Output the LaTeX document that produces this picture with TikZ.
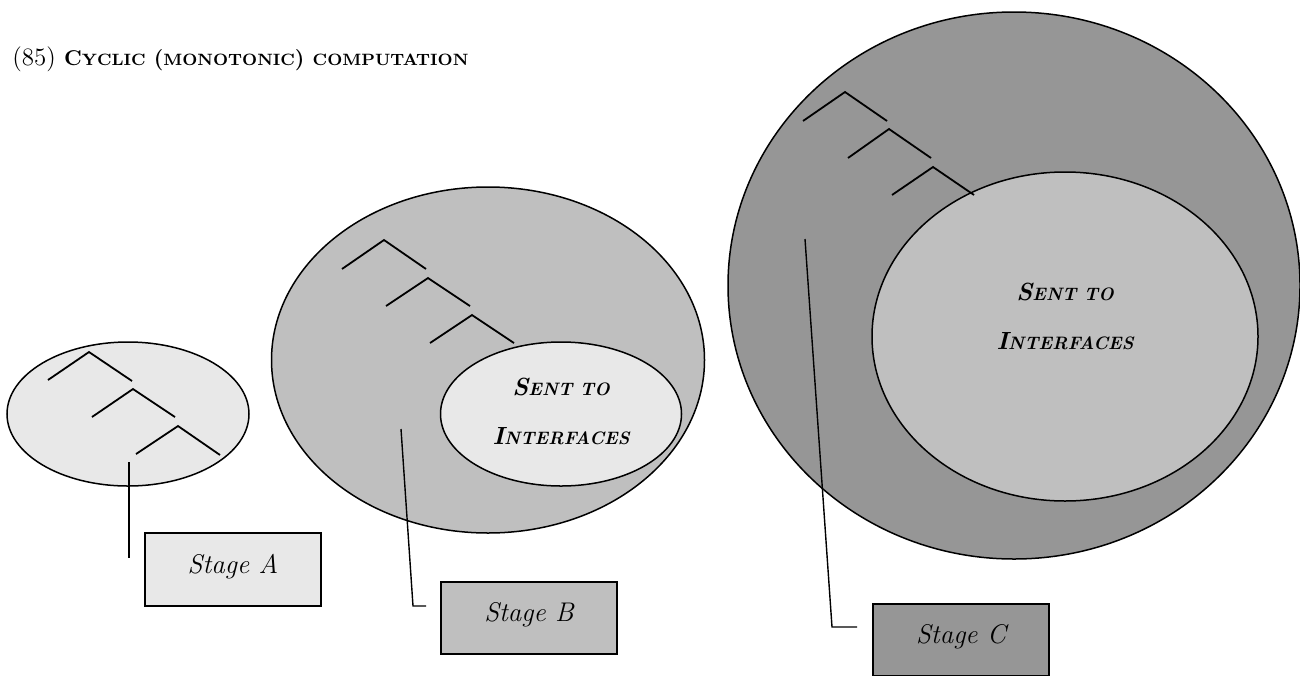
\documentclass[tikz,border=0pt]{standalone}
\usepackage{xcolor}
\definecolor{stageLight}{HTML}{E8E8E8}
\definecolor{stageMid}{HTML}{BFBFBF}
\definecolor{stageDark}{HTML}{969696}
\usepackage{tikz}
\usetikzlibrary{shapes.geometric,positioning}
\newcommand{\smallcaps}[2][9]{{\fontsize{#1}{#1}\selectfont #2}}
\tikzset{
    phase/.style={
        draw=black,
        ellipse,
        line width=0.75pt,
        inner sep=0pt
    },
    stagebox/.style={
        draw=black,
        rectangle,
        line width=0.75pt,
        minimum width=88pt,
        minimum height=36pt,
        inner sep=0pt,
        text height=9pt,
        text depth=5.5pt,
        font=\fontsize{13.5}{15}\selectfont\itshape
    },
    branch/.style={
        line width=0.9pt
    },
    leader/.style={
        line width=0.7pt
    },
    sent/.style={
        align=center,
        inner sep=0pt,
        font=\fontsize{12.4}{24.5}\selectfont\bfseries\itshape
    }
}

\begin{document}
\begin{tikzpicture}[x=0.5pt, y=-0.5pt]
    \useasboundingbox (0,0) rectangle (1300,675);

    % Heading
    \node[anchor=base west, inner sep=0pt, font=\fontsize{12.5}{15}\selectfont] (title) at (12,65)
        {(85) \textbf{\fontsize{10.7}{15}\selectfont C\smallcaps[8.2]{YCLIC} (\smallcaps[8.2]{MONOTONIC}) \smallcaps[8.2]{COMPUTATION}}};

    % Stage A
    \node[phase, fill=stageLight, minimum width=121pt, minimum height=72pt] (phaseA) at (128,414) {};
    \draw[branch] (48,380) -- (89,352) -- (132,381);
    \draw[branch] (92,417) -- (133,389) -- (175,417);
    \draw[branch] (136,454) -- (178,426) -- (220,455);
    \node[stagebox, fill=stageLight, minimum height=36.5pt] (stageA) at (233,569.5) {Stage A};
    \coordinate (leadA) at (129,462);
    \draw[leader] (leadA) -- ++(0,96);

    % Stage B
    \node[phase, fill=stageMid, minimum width=216.5pt, minimum height=173pt] (phaseB) at (488,360) {};
    \node[phase, fill=stageLight, minimum width=120.5pt, minimum height=72pt] (coreB) at (561,414) {};
    \draw[branch] (342,269) -- (384,240) -- (426,269);
    \draw[branch] (386,306) -- (428,278) -- (470,306);
    \draw[branch] (430,343) -- (472,315) -- (514,343);
    \node[sent] (sentB) at ([yshift=1.5pt]coreB.center)
        {S\smallcaps[9]{ENT TO}\\I\smallcaps[9]{NTERFACES}};
    \node[stagebox, fill=stageMid] (stageB) at (529,618) {Stage B};
    \coordinate (leadB) at (401,429);
    \draw[leader] (leadB) -- ++(12,177) -- ++(13,0);

    % Stage C
    \node[phase, fill=stageDark, minimum width=286pt, minimum height=273.5pt] (phaseC) at (1014,285.5) {};
    \node[phase, fill=stageMid, minimum width=193pt, minimum height=164.5pt] (coreC) at (1065,336.5) {};
    \draw[branch] (803,121) -- (845,92) -- (887,121);
    \draw[branch] (848,158) -- (889,129) -- (931,158);
    \draw[branch] (892,195) -- (933,167) -- (974,195);
    \node[sent] (sentC) at ([yshift=10pt]coreC.center)
        {S\smallcaps[9]{ENT TO}\\I\smallcaps[9]{NTERFACES}};
    \node[stagebox, fill=stageDark] (stageC) at (961,640) {Stage C};
    \coordinate (leadC) at (805,239);
    \draw[leader] (leadC) -- ++(27,388) -- ++(25,0);
\end{tikzpicture}
\end{document}
